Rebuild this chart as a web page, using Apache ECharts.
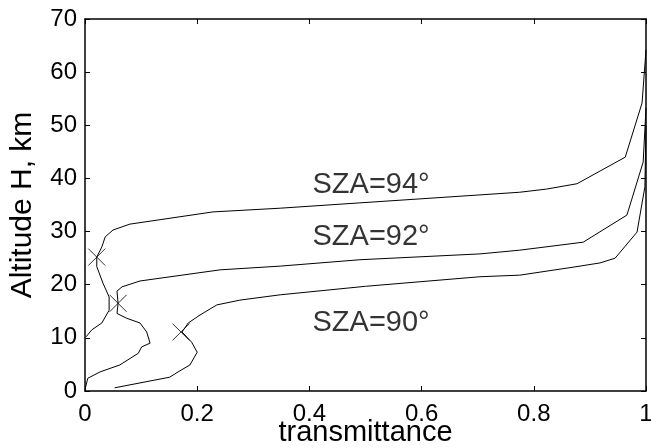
<!DOCTYPE html>
<html>
<head>
<meta charset="utf-8">
<script src="https://cdn.jsdelivr.net/npm/echarts@6/dist/echarts.min.js"></script>
<style>html,body{margin:0;padding:0;background:#fff}#c{width:651px;height:448px}</style>
</head>
<body>
<div id="c"></div>
<script>
const xTicks = [0, 0.2, 0.4, 0.6, 0.8, 1];
const yTicks = [0, 10, 20, 30, 40, 50, 60, 70];
const sza90 = [[0.053,0.6],[0.151,2.6],[0.166,3.6],[0.187,4.9],[0.2,7.3],[0.19,9.2],[0.173,11.1],[0.184,12.8],[0.205,14.3],[0.235,16.2],[0.276,17.1],[0.348,18.1],[0.5,19.7],[0.704,21.5],[0.775,21.8],[0.87,23.3],[0.918,24.1],[0.945,25.0],[0.984,29.9],[0.998,38.4],[1.0,50.0]];
const sza92 = [[0.0,0.3],[0.005,2.4],[0.027,3.6],[0.062,4.9],[0.095,7.1],[0.101,8.3],[0.116,9.0],[0.11,11.1],[0.098,12.8],[0.074,13.7],[0.057,14.6],[0.059,16.5],[0.057,18.8],[0.066,19.6],[0.098,20.7],[0.241,22.8],[0.348,23.5],[0.49,24.7],[0.704,25.8],[0.775,26.5],[0.888,28.0],[0.966,33.1],[0.995,43.1],[1.0,53.3]];
const sza94 = [[0.002,10.2],[0.012,11.5],[0.03,12.8],[0.043,15.2],[0.043,17.7],[0.032,20.3],[0.021,23.4],[0.021,25.2],[0.03,27.1],[0.036,29.0],[0.05,30.3],[0.08,31.4],[0.228,33.7],[0.348,34.4],[0.49,35.4],[0.704,36.9],[0.775,37.4],[0.823,38.0],[0.877,39.0],[0.963,44.0],[0.993,54.2],[1.0,64.2]];
const markers = [[0.021,25.2],[0.059,16.5],[0.171,11.1]];
const labelTexts = ['SZA=94°', 'SZA=92°', 'SZA=90°'];
const labelPos = [[0.51,38.8],[0.51,29.0],[0.51,12.8]];
const FONT = 'Liberation Sans, Arial, Helvetica, sans-serif';
const chart = echarts.init(document.getElementById('c'));
const lineStyle = {color:'#000', width:1};
const axisCommon = {
  axisLine:{show:true, onZero:false, lineStyle:{color:'#000', width:1.5}},
  axisTick:{show:true, inside:true, length:5, lineStyle:{color:'#000', width:1}},
  splitLine:{show:false}
};
const mk = (d)=>({type:'line', data:d, showSymbol:false, symbol:'none', lineStyle:lineStyle, silent:true, animation:false});
chart.setOption({
  animation:false,
  grid:{left:85, right:5, top:19, bottom:57, containLabel:false, outerBoundsMode:'none'},
  xAxis:[
    Object.assign({type:'value', min:0, max:1, interval:0.2, position:'bottom',
      name:'transmittance', nameLocation:'middle', nameGap:27, nameMoveOverlap:false,
      nameTextStyle:{fontFamily:FONT, fontSize:29, color:'#000'},
      axisLabel:{fontFamily:FONT, fontSize:24, color:'#000', margin:11,
        formatter:v=>{const t=xTicks.find(a=>Math.abs(a-v)<1e-9);return t===undefined?'':String(t);}}}, axisCommon),
    Object.assign({type:'value', min:0, max:1, interval:0.2, position:'top', axisLabel:{show:false}}, axisCommon)
  ],
  yAxis:[
    Object.assign({type:'value', min:0, max:70, interval:10, position:'left',
      name:'Altitude H, km', nameLocation:'middle', nameGap:47, nameMoveOverlap:false,
      nameTextStyle:{fontFamily:FONT, fontSize:30, color:'#000'},
      axisLabel:{fontFamily:FONT, fontSize:24, color:'#000', margin:8,
        formatter:v=>{const t=yTicks.find(a=>Math.abs(a-v)<1e-9);return t===undefined?'':String(t);}}}, axisCommon),
    Object.assign({type:'value', min:0, max:70, interval:10, position:'right', axisLabel:{show:false}}, axisCommon)
  ],
  series:[
    mk(sza90), mk(sza92), mk(sza94),
    {type:'scatter', data:markers, symbol:'path://M0,0L10,10M10,0L0,10', symbolSize:17,
      itemStyle:{color:'none', borderColor:'#000', borderWidth:1}, silent:true},
    {type:'scatter', data:labelPos, symbolSize:0, silent:true,
      label:{show:true, position:'inside', fontFamily:FONT, fontSize:29, color:'#000', textBorderWidth:0,
        formatter:p=>labelTexts[p.dataIndex]}}
  ]
});
</script>
</body>
</html>
